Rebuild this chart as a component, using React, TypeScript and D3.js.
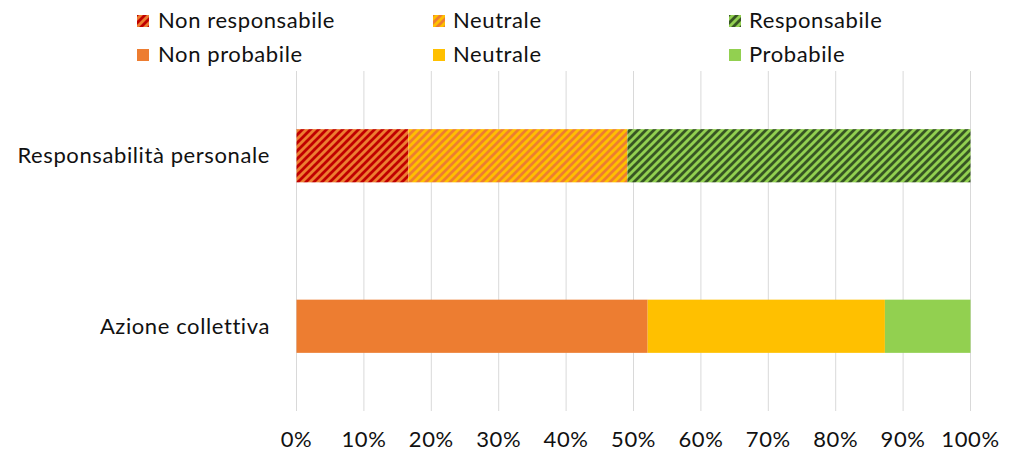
import React from "react";
import * as d3 from "d3";

const categories = ["Responsabilità personale", "Azione collettiva"];
const seriesNames = [
  ["Non responsabile", "Neutrale", "Responsabile"],
  ["Non probabile", "Neutrale", "Probabile"],
];
const responsabilitaValues = [16.6, 32.5, 50.9];
const azioneValues = [52.1, 35.2, 12.7];
const xTicks = [0, 10, 20, 30, 40, 50, 60, 70, 80, 90, 100];

const solidColors = ["#ED7D31", "#FFC000", "#92D050"];
const hatchFg = ["#C00000", "#ED7D31", "#375623"];

const W = 1011;
const H = 455;
const FONT = "Lato, 'Open Sans', sans-serif";
const FS = 22;
const LS = 0.6;

export default function App() {
  const x = d3.scaleLinear().domain([0, 100]).range([296.5, 970.5]);
  const y = d3
    .scaleBand()
    .domain(categories)
    .range([71, 411])
    .paddingInner(0.688)
    .paddingOuter(0.341);

  const rows = [
    { cat: categories[0], values: responsabilitaValues, hatched: true },
    { cat: categories[1], values: azioneValues, hatched: false },
  ];

  const legendCols = [137, 433, 729];
  const legendTextX = [158, 453, 749];
  const legendRowY = [21, 55];

  return (
    <svg width={W} height={H} style={{ position: "absolute", left: 0, top: 0, background: "#fff" }}>
      <defs>
        {hatchFg.map((fg, i) => (
          <pattern key={i} id={`hatch${i}`} patternUnits="userSpaceOnUse" width={8} height={8}>
            <rect width={8} height={8} fill={solidColors[i]} />
            <path d="M-2,2 L2,-2 M0,8 L8,0 M6,10 L10,6" stroke={fg} strokeWidth={2.8} />
          </pattern>
        ))}
      </defs>
      {xTicks.map((t) => (
        <line key={t} x1={x(t)} x2={x(t)} y1={71} y2={411} stroke="#d9d9d9" strokeWidth={1} />
      ))}
      {rows.map((r) => {
        const stack = d3.cumsum(r.values);
        return r.values.map((v, i) => {
          const x0 = i === 0 ? 0 : stack[i - 1];
          const x1 = stack[i];
          return (
            <rect
              key={r.cat + i}
              x={x(x0)}
              y={y(r.cat)}
              width={x(x1) - x(x0)}
              height={y.bandwidth()}
              fill={r.hatched ? `url(#hatch${i})` : solidColors[i]}
            />
          );
        });
      })}
      {categories.map((c) => (
        <text
          key={c}
          x={270}
          y={(y(c) ?? 0) + y.bandwidth() / 2 + 2}
          textAnchor="end"
          dominantBaseline="middle"
          fontFamily={FONT}
          fontSize={FS}
          letterSpacing={LS}
          fill="#111"
        >
          {c}
        </text>
      ))}
      {xTicks.map((t) => (
        <text
          key={t}
          x={x(t)}
          y={441}
          textAnchor="middle"
          dominantBaseline="middle"
          fontFamily={FONT}
          fontSize={FS}
          letterSpacing={LS}
          fill="#111"
        >
          {`${t}%`}
        </text>
      ))}
      {seriesNames.map((row, ri) =>
        row.map((name, ci) => (
          <g key={`${ri}-${ci}`}>
            <rect
              x={legendCols[ci]}
              y={legendRowY[ri] - 6}
              width={12}
              height={12}
              fill={ri === 0 ? `url(#hatch${ci})` : solidColors[ci]}
            />
            <text
              x={legendTextX[ci]}
              y={legendRowY[ri] + 1}
              dominantBaseline="middle"
              fontFamily={FONT}
              fontSize={FS}
              letterSpacing={LS}
              fill="#111"
            >
              {name}
            </text>
          </g>
        ))
      )}
    </svg>
  );
}
